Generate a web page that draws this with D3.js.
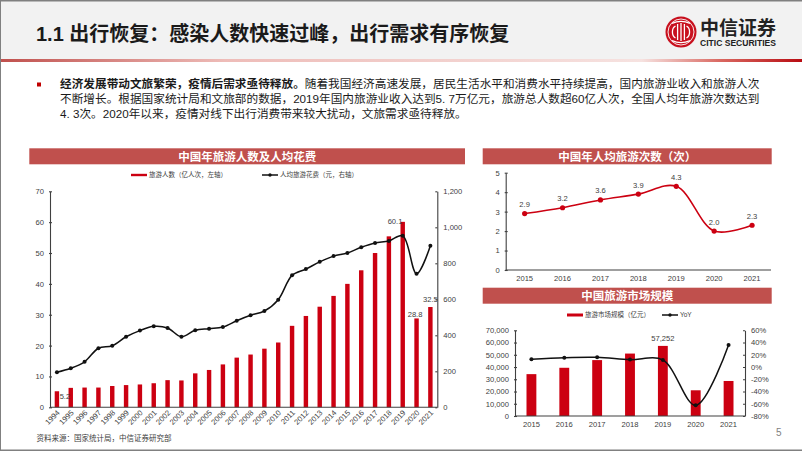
<!DOCTYPE html>
<html>
<head>
<meta charset="utf-8">
<script src="https://cdn.jsdelivr.net/npm/d3@7"></script>
<style>
html, body { margin: 0; padding: 0; background: #fff; }
svg { display: block; }
text { font-family: "Liberation Sans", "Noto Sans CJK SC", sans-serif; }
.axis text { font-size: 7.6px; fill: #404040; font-family: "Liberation Sans", sans-serif; }
.axis path, .axis line { stroke: #404040; stroke-width: 1.1; }
.lbl { font-size: 7.6px; fill: #404040; text-anchor: middle; }
.lgd { font-size: 6.5px; fill: #404040; }
.head { font-size: 11.5px; font-weight: 700; fill: #fff; text-anchor: middle; }
</style>
</head>
<body>
<script>
// 年旅游人数及人均花费
var years = ["1994","1995","1996","1997","1998","1999","2000","2001","2002","2003","2004","2005","2006","2007",
    "2008","2009","2010","2011","2012","2013","2014","2015","2016","2017","2018","2019","2020","2021"];
var tourists = [5.2,6.3,6.4,6.4,6.9,7.2,7.4,7.8,8.8,8.7,11.0,12.1,13.9,16.1,17.1,19.0,21.0,26.4,29.6,32.6,36.1,40.0,44.4,50.0,55.4,60.1,28.8,32.5];
var spending = [195,217,253,328,342,392,426,450,441,392,428,437,446,481,511,535,598,733,768,808,840,857,889,913,924,953,742,898];
var touristLabels = {"1994":"5.2","2019":"60.1","2020":"28.8","2021":"32.5"};

// 年人均旅游次数
var recentYears = ["2015","2016","2017","2018","2019","2020","2021"];
var tripsPerPerson = [2.9,3.2,3.6,3.9,4.3,2.0,2.3];

// 旅游市场规模
var marketSize = [34195,39390,45661,51000,57252,21000,28600];
var marketYoY = [12.6,15.3,15.9,12.1,11.5,-62.6,36];

var bodyLines = [
    "随着我国经济高速发展，居民生活水平和消费水平持续提高，国内旅游业收入和旅游人次",
    "不断增长。根据国家统计局和文旅部的数据，2019年国内旅游业收入达到5. 7万亿元，旅游总人数超60亿人次，全国人均年旅游次数达到",
    "4. 3次。2020年以来，疫情对线下出行消费带来较大扰动，文旅需求亟待释放。"
];

var RED = "#cc0011", BANNER = "#c0504d", BLACK = "#111";

var svg = d3.select("body").append("svg").attr("width", 802).attr("height", 451);

function renderPage() {
    var defs = svg.append("defs");
    var grad = defs.append("linearGradient").attr("id", "rule");
    [[0, "#c0504d"], [0.28, "#eebcb8"], [0.8, "#f6e2e0"], [0.9, "#d9665f"], [1, "#b80c12"]].forEach(function (s) {
        grad.append("stop").attr("offset", s[0]).attr("stop-color", s[1]);
    });

    svg.append("rect").attr("width", 802).attr("height", 59).attr("fill", "#f2f2f2");
    svg.append("rect").attr("y", 59).attr("width", 802).attr("height", 3).attr("fill", "url(#rule)");

    // 外框
    svg.append("rect").attr("width", 802).attr("height", 1.5).attr("fill", "#808080");
    svg.append("rect").attr("width", 1).attr("height", 451).attr("fill", "#808080");
    svg.append("rect").attr("y", 449.5).attr("width", 802).attr("height", 1.5).attr("fill", "#808080");

    svg.append("text").attr("x", 36).attr("y", 40.5)
        .attr("font-size", 20).attr("font-weight", 700).attr("fill", "#1a1a1a")
        .text("1.1 出行恢复：感染人数快速过峰，出行需求有序恢复");

    renderLogo();

    svg.append("rect").attr("x", 37).attr("y", 82.5).attr("width", 4).attr("height", 4).attr("fill", "#c00000");

    var first = svg.append("text").attr("x", 60).attr("y", 88).attr("font-size", 11.67).attr("fill", "#1a1a1a");
    first.append("tspan").attr("font-weight", 700).text("经济发展带动文旅繁荣，疫情后需求亟待释放。");
    first.append("tspan").text(bodyLines[0]);
    svg.append("text").attr("x", 60).attr("y", 103).attr("font-size", 11.67).attr("fill", "#1a1a1a").text(bodyLines[1]);
    svg.append("text").attr("x", 60).attr("y", 118).attr("font-size", 11.67).attr("fill", "#1a1a1a").text(bodyLines[2]);

    svg.append("text").attr("x", 36.5).attr("y", 441).attr("font-size", 7.5).attr("fill", "#404040")
        .text("资料来源：国家统计局，中信证券研究部");
    svg.append("text").attr("x", 776).attr("y", 436).attr("font-size", 10).attr("fill", "#7f7f7f").text("5");
}

function renderLogo() {
    var g = svg.append("g").attr("transform", "translate(681,32)");
    g.append("circle").attr("r", 15.5).attr("fill", "#c8101e");
    // 白色环和 CITIC 字样的线条
    g.append("circle").attr("r", 13).attr("fill", "none").attr("stroke", "#fff").attr("stroke-width", 0.9);
    ["M-5.5,-6A5,6.5 0 0 0 -5.5,6", "M5.5,-6A5,6.5 0 0 1 5.5,6",
     "M-3.4,-8V8", "M3.4,-8V8", "M0,-9V9", "M-9,-8.6Q0,-12.5 9,-8.6", "M-9,8.6Q0,12.5 9,8.6"].forEach(function (d) {
        g.append("path").attr("d", d).attr("fill", "none").attr("stroke", "#fff").attr("stroke-width", 1.3);
    });
    svg.append("text").attr("x", 700).attr("y", 35).attr("font-size", 19).attr("font-weight", 700)
        .attr("fill", "#222").text("中信证券");
    svg.append("text").attr("x", 700).attr("y", 45.5).attr("font-size", 8.6).attr("font-weight", 700)
        .attr("fill", "#222").attr("textLength", 76).attr("lengthAdjust", "spacingAndGlyphs")
        .text("CITIC SECURITIES");
}

function renderBanner(x0, x1, y, title) {
    svg.append("rect").attr("x", x0).attr("y", y).attr("width", x1 - x0).attr("height", 16).attr("fill", BANNER);
    svg.append("text").attr("class", "head").attr("x", (x0 + x1) / 2).attr("y", y + 12.2).text(title);
}

// 图例：线或带点的线 + 文字
function legendItem(x, y, color, thick, dot, label) {
    svg.append("line").attr("x1", x).attr("x2", x + 16).attr("y1", y).attr("y2", y)
        .attr("stroke", color).attr("stroke-width", thick);
    if (dot) svg.append("circle").attr("cx", x + 8).attr("cy", y).attr("r", 1.7).attr("fill", color);
    svg.append("text").attr("class", "lgd").attr("x", x + 18).attr("y", y + 2.4).text(label);
}

function drawAxes(o) {
    // 刻度朝内
    svg.append("g").attr("class", "axis x-axis").attr("transform", "translate(0," + o.y.range()[0] + ")")
        .call(d3.axisBottom(o.x).tickSize(0).tickPadding(o.xPad)).call(function (g) {
            g.select(".domain").attr("d", "M" + o.x.range()[0] + ",0H" + o.x.range()[1]);
        });
    svg.append("g").attr("class", "axis").attr("transform", "translate(" + o.x.range()[0] + ",0)")
        .call(d3.axisLeft(o.y).tickValues(o.leftTicks).tickFormat(o.leftFmt).tickSizeInner(-2).tickSizeOuter(0).tickPadding(6))
        .call(function (g) { g.selectAll(".tick line").attr("x1", -1); });
    if (o.y2) {
        svg.append("g").attr("class", "axis").attr("transform", "translate(" + o.x.range()[1] + ",0)")
            .call(d3.axisRight(o.y2).tickValues(o.rightTicks).tickFormat(o.rightFmt).tickSizeInner(-2).tickSizeOuter(0).tickPadding(6));
    }
}

function bandScale(domain, r0, r1, pad) {
    return d3.scaleBand().domain(domain).range([r0, r1]).paddingInner(pad).paddingOuter(pad / 2);
}

function smoothLine(x, y, domain) {
    return d3.line()
        .x(function (d, i) { return x(domain[i]) + x.bandwidth() / 2; })
        .y(function (d) { return y(d); })
        .curve(d3.curveCatmullRom.alpha(0.5));
}

function renderTouristChart() {
    renderBanner(29.3, 465, 148.3, "中国年旅游人数及人均花费");
    legendItem(131, 175, RED, 2.4, false, "旅游人数（亿人次，左轴）");
    legendItem(262, 175, BLACK, 1.5, true, "人均旅游花费（元，右轴）");

    var x = bandScale(years, 50, 437.3, 0.68),
        y = d3.scaleLinear().domain([0, 70]).range([407.3, 191.3]),
        y2 = d3.scaleLinear().domain([0, 1200]).range([407.3, 191.3]);

    svg.append("g").selectAll("rect").data(tourists).enter().append("rect")
        .attr("x", function (d, i) { return x(years[i]); })
        .attr("y", function (d) { return y(d); })
        .attr("width", x.bandwidth())
        .attr("height", function (d) { return y(0) - y(d); })
        .attr("fill", RED);

    drawAxes({
        x: x, y: y, y2: y2, xPad: 0,
        leftTicks: d3.range(0, 71, 10), leftFmt: d3.format("d"),
        rightTicks: d3.range(0, 1201, 200), rightFmt: d3.format(",")
    });

    // 年份标签斜排
    svg.select(".x-axis").selectAll(".tick text")
        .attr("x", 0).attr("y", 0).attr("dy", "0.35em")
        .attr("text-anchor", "end")
        .attr("transform", "translate(1.5,4) rotate(-45)");

    svg.append("path").datum(spending).attr("fill", "none").attr("stroke", BLACK).attr("stroke-width", 1.5)
        .attr("d", smoothLine(x, y2, years));
    svg.append("g").selectAll("circle").data(spending).enter().append("circle")
        .attr("cx", function (d, i) { return x(years[i]) + x.bandwidth() / 2; })
        .attr("cy", function (d) { return y2(d); })
        .attr("r", 2).attr("fill", BLACK);

    var offsets = {"1994": [8, 8], "2019": [-7.7, 2.5], "2020": [-1.5, -1], "2021": [0, -4.6]};
    svg.append("g").selectAll("text").data(years.filter(function (d) { return touristLabels[d]; })).enter().append("text")
        .attr("class", "lbl")
        .attr("x", function (d) { return x(d) + x.bandwidth() / 2 + offsets[d][0]; })
        .attr("y", function (d) { return y(tourists[years.indexOf(d)]) + offsets[d][1]; })
        .text(function (d) { return touristLabels[d]; });
}

function renderTripsChart() {
    renderBanner(482.7, 771.7, 148.3, "中国年人均旅游次数（次）");

    var x = bandScale(recentYears, 505.7, 771, 0.5),
        y = d3.scaleLinear().domain([0, 5]).range([270, 172.7]);

    drawAxes({ x: x, y: y, xPad: 6, leftTicks: d3.range(0, 6), leftFmt: d3.format("d") });

    svg.append("path").datum(tripsPerPerson).attr("fill", "none").attr("stroke", RED).attr("stroke-width", 1.6)
        .attr("d", smoothLine(x, y, recentYears));
    svg.append("g").selectAll("circle").data(tripsPerPerson).enter().append("circle")
        .attr("cx", function (d, i) { return x(recentYears[i]) + x.bandwidth() / 2; })
        .attr("cy", function (d) { return y(d); })
        .attr("r", 2.6).attr("fill", RED);
    svg.append("g").selectAll("text").data(tripsPerPerson).enter().append("text")
        .attr("class", "lbl")
        .attr("x", function (d, i) { return x(recentYears[i]) + x.bandwidth() / 2; })
        .attr("y", function (d) { return y(d) - 6.5; })
        .text(d3.format(".1f"));
}

function renderMarketChart() {
    renderBanner(482.7, 771.7, 287.7, "中国旅游市场规模");
    legendItem(567, 315, RED, 3, false, "旅游市场规模（亿元）");
    legendItem(662, 315, BLACK, 1.5, true, "YoY");

    var x = bandScale(recentYears, 515, 745, 0.7),
        y = d3.scaleLinear().domain([0, 70000]).range([416, 330.3]),
        y2 = d3.scaleLinear().domain([-80, 60]).range([416, 330.3]);

    svg.append("g").selectAll("rect").data(marketSize).enter().append("rect")
        .attr("x", function (d, i) { return x(recentYears[i]); })
        .attr("y", function (d) { return y(d); })
        .attr("width", x.bandwidth())
        .attr("height", function (d) { return y(0) - y(d); })
        .attr("fill", RED);

    drawAxes({
        x: x, y: y, y2: y2, xPad: 6,
        leftTicks: d3.range(0, 70001, 10000), leftFmt: d3.format(","),
        rightTicks: d3.range(-80, 61, 20), rightFmt: function (d) { return d + "%"; }
    });

    svg.append("path").datum(marketYoY).attr("fill", "none").attr("stroke", BLACK).attr("stroke-width", 1.5)
        .attr("d", smoothLine(x, y2, recentYears));
    svg.append("g").selectAll("circle").data(marketYoY).enter().append("circle")
        .attr("cx", function (d, i) { return x(recentYears[i]) + x.bandwidth() / 2; })
        .attr("cy", function (d) { return y2(d); })
        .attr("r", 2).attr("fill", BLACK);

    svg.append("text").attr("class", "lbl")
        .attr("x", x("2019") + x.bandwidth() / 2).attr("y", y(57252) - 4.5)
        .text(d3.format(",")(57252));
}

renderPage();
renderTouristChart();
renderTripsChart();
renderMarketChart();
</script>
</body>
</html>
